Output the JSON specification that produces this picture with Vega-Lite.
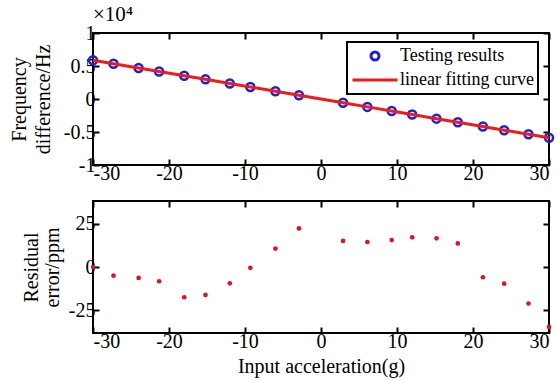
{
  "$schema": "https://vega.github.io/schema/vega-lite/v6.json",
  "padding": {"left": 8, "top": 3, "right": 5, "bottom": 3},
  "background": "white",
  "config": {
    "font": "Liberation Serif",
    "view": {"stroke": "black", "strokeWidth": 2},
    "legend": {"strokeWidth": 2, "strokeColor": "black", "symbolStrokeWidth": 3},
    "axis": {"grid": false, "domain": false, "tickColor": "black", "tickWidth": 2, "tickSize": -6,
      "labelFont": "Liberation Serif", "labelFontSize": 20, "labelColor": "black", "labelPadding": 4,
      "titleFont": "Liberation Serif", "titleFontSize": 20, "titleFontWeight": "normal", "titleColor": "black"}
  },
  "datasets": {
    "meas": [
      {"a": -30, "f": 5880, "fit": 5880, "r": 0},
      {"a": -27.3, "f": 5351, "fit": 5351, "r": -5},
      {"a": -24, "f": 4704, "fit": 4704, "r": -6.3},
      {"a": -21.3, "f": 4175, "fit": 4175, "r": -8.2},
      {"a": -18, "f": 3528, "fit": 3528, "r": -17.4},
      {"a": -15.2, "f": 2979, "fit": 2979, "r": -16.1},
      {"a": -12, "f": 2352, "fit": 2352, "r": -9.4},
      {"a": -9.3, "f": 1823, "fit": 1823, "r": -0.5},
      {"a": -6, "f": 1176, "fit": 1176, "r": 10.6},
      {"a": -2.9, "f": 568, "fit": 568, "r": 22.2},
      {"a": 2.9, "f": -568, "fit": -568, "r": 15},
      {"a": 6.1, "f": -1196, "fit": -1196, "r": 14.4},
      {"a": 9.3, "f": -1823, "fit": -1823, "r": 15.5},
      {"a": 12, "f": -2352, "fit": -2352, "r": 17.1},
      {"a": 15.2, "f": -2979, "fit": -2979, "r": 16.5},
      {"a": 18, "f": -3528, "fit": -3528, "r": 13.6},
      {"a": 21.3, "f": -4175, "fit": -4175, "r": -5.9},
      {"a": 24.1, "f": -4724, "fit": -4724, "r": -9.6},
      {"a": 27.3, "f": -5351, "fit": -5351, "r": -21},
      {"a": 30, "f": -5880, "fit": -5880, "r": -34.5}
    ]
  },
  "bounds": "flush",
  "spacing": 36,
  "vconcat": [
    {
      "width": 456,
      "height": 132,
      "title": {"text": "×10⁴", "anchor": "start", "frame": "group", "fontSize": 21, "fontWeight": "normal", "font": "Liberation Serif", "color": "black", "offset": -2},
      "data": {"name": "meas"},
      "layer": [
        {
          "mark": {"type": "point", "filled": false, "strokeWidth": 2.5, "opacity": 1},
          "encoding": {
            "x": {"field": "a", "type": "quantitative", "scale": {"domain": [-30, 30], "nice": false},
              "axis": {"values": [-30, -20, -10, 0, 10, 20, 30], "title": null, "labelExpr": "datum.value + ''"}},
            "y": {"field": "f", "type": "quantitative", "scale": {"domain": [-10000, 10000], "nice": false},
              "axis": {"values": [-10000, -5000, 0, 5000, 10000], "labelExpr": "(datum.value / 10000) + ''", "title": ["Frequency", "difference/Hz"], "titlePadding": 10, "titleLineHeight": 24}},
            "color": {"datum": "Testing results", "type": "nominal",
              "scale": {"domain": ["Testing results", "linear fitting curve"], "range": ["#1f1fd6", "#f01a1a"]},
              "legend": {"title": null, "orient": "none", "legendX": 254, "legendY": 9, "fillColor": "white", "clipHeight": 20,
                "padding": 4, "labelFontSize": 18, "labelFont": "Liberation Serif", "labelColor": "black", "rowPadding": 4, "labelOffset": 1}},
            "shape": {"datum": "Testing results", "type": "nominal",
              "scale": {"domain": ["Testing results", "linear fitting curve"], "range": ["circle", "stroke"]},
              "legend": {"title": null, "orient": "none", "legendX": 254, "legendY": 9, "fillColor": "white", "clipHeight": 20,
                "padding": 4, "labelFontSize": 18, "labelFont": "Liberation Serif", "labelColor": "black", "rowPadding": 4, "labelOffset": 1}},
            "size": {"datum": "Testing results", "type": "nominal",
              "scale": {"type": "ordinal", "domain": ["Testing results", "linear fitting curve"], "range": [64, 2025]},
              "legend": {"title": null, "orient": "none", "legendX": 254, "legendY": 9, "fillColor": "white", "clipHeight": 20,
                "padding": 4, "labelFontSize": 18, "labelFont": "Liberation Serif", "labelColor": "black", "rowPadding": 4, "labelOffset": 1}}
          }
        },
        {
          "mark": {"type": "line", "strokeWidth": 3, "color": "#f01a1a"},
          "encoding": {
            "x": {"field": "a", "type": "quantitative", "axis": {"orient": "top", "labels": false, "title": null, "values": [-30, -20, -10, 0, 10, 20, 30]}},
            "y": {"field": "fit", "type": "quantitative", "axis": {"orient": "right", "labels": false, "title": null, "values": [-10000, -5000, 0, 5000, 10000]}}
          }
        }
      ],
      "resolve": {"axis": {"x": "independent", "y": "independent"}}
    },
    {
      "width": 456,
      "height": 132,
      "data": {"name": "meas"},
      "layer": [
        {
          "mark": {"type": "circle", "size": 22, "color": "#e0141c", "opacity": 1},
          "encoding": {
            "x": {"field": "a", "type": "quantitative", "scale": {"domain": [-30, 30], "nice": false},
              "axis": {"values": [-30, -20, -10, 0, 10, 20, 30], "title": "Input acceleration(g)", "titlePadding": 5, "labelExpr": "datum.value + ''"}},
            "y": {"field": "r", "type": "quantitative", "scale": {"domain": [-38, 38], "nice": false},
              "axis": {"values": [-25, 0, 25], "labelExpr": "datum.value + ''", "title": ["Residual", "error/ppm"], "titlePadding": 6, "titleLineHeight": 21}}
          }
        },
        {
          "mark": {"type": "circle", "size": 22, "opacity": 0},
          "encoding": {
            "x": {"field": "a", "type": "quantitative", "axis": {"orient": "top", "labels": false, "title": null, "values": [-30, -20, -10, 0, 10, 20, 30]}},
            "y": {"field": "r", "type": "quantitative", "axis": {"orient": "right", "labels": false, "title": null, "values": [-25, 0, 25]}}
          }
        }
      ],
      "resolve": {"axis": {"x": "independent", "y": "independent"}}
    }
  ]
}
